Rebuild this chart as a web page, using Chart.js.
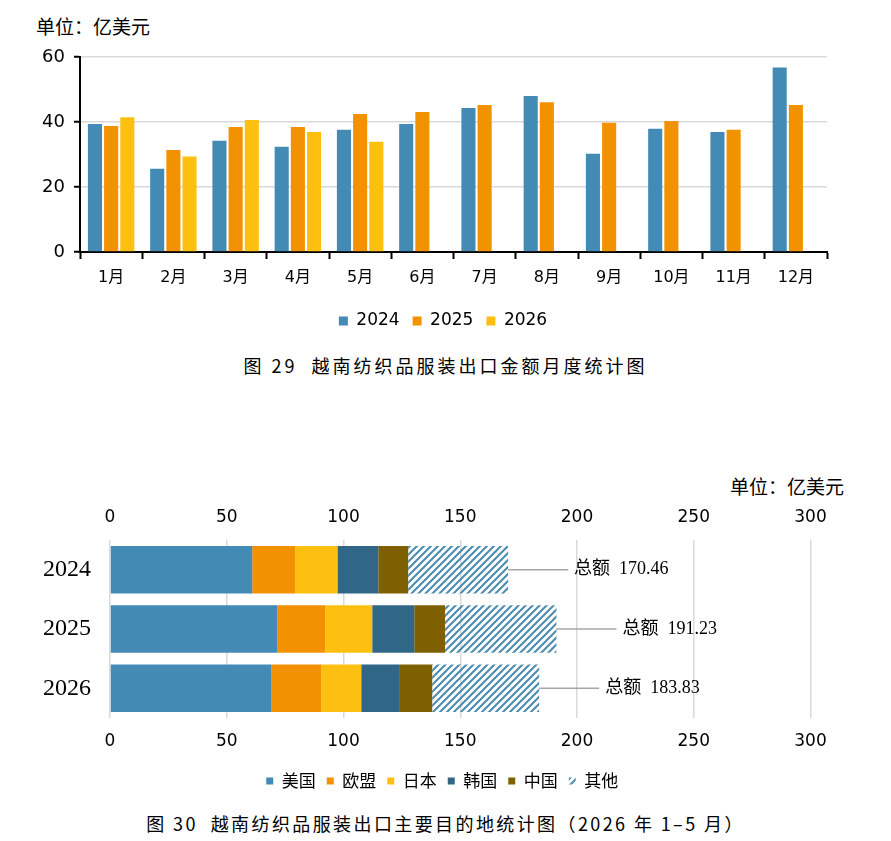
<!DOCTYPE html>
<html lang="zh-CN">
<head>
<meta charset="utf-8">
<title>越南纺织品服装出口统计图</title>
<script src="https://cdn.jsdelivr.net/npm/chart.js@4.4.1/dist/chart.umd.min.js"></script>
<style>
    html, body { margin: 0; padding: 0; background: #fff; }
    body { width: 891px; height: 841px; position: relative; overflow: hidden; color: #000;
           font-family: "Noto Sans CJK SC", sans-serif; }
    .unit { position: absolute; font-size: 19px; line-height: 1; white-space: nowrap; }
    .caption { position: absolute; left: 0; width: 891px; text-align: center; font-size: 18px;
               line-height: 1; white-space: nowrap; }
    .box { position: absolute; left: 0; width: 891px; }
</style>
</head>
<body>
<div class="unit" style="left:36px; top:16px;">单位：亿美元</div>
<div class="box" style="top:0; height:345px;"><canvas id="monthlyChart"></canvas></div>
<div class="caption" style="top:356px; letter-spacing:3px;">图 29&nbsp;&nbsp;越南纺织品服装出口金额月度统计图</div>

<div class="unit" style="left:730px; top:476px;">单位：亿美元</div>
<div class="box" style="top:480px; height:320px;"><canvas id="marketChart"></canvas></div>
<div class="caption" style="top:814px; letter-spacing:2.4px;">图 30&nbsp;&nbsp;越南纺织品服装出口主要目的地统计图（2026 年 1–5 月）</div>

<script>
// 图 29：月度出口额（亿美元）
const months = ['1月', '2月', '3月', '4月', '5月', '6月', '7月', '8月', '9月', '10月', '11月', '12月'];
const exports2024 = [39.4, 25.6, 34.2, 32.4, 37.6, 39.4, 44.3, 48.0, 30.2, 37.9, 36.9, 56.8];
const exports2025 = [38.8, 31.4, 38.5, 38.5, 42.5, 43.1, 45.2, 46.1, 39.8, 40.3, 37.6, 45.2];
const exports2026 = [41.5, 29.4, 40.6, 36.9, 33.9, null, null, null, null, null, null, null];

// 图 30：主要目的地（亿美元，1-5 月）
const years = ['2024', '2025', '2026'];
const usa = [60.9, 71.6, 69.0];
const eu = [18.4, 20.6, 21.4];
const japan = [18.1, 20.1, 17.2];
const korea = [17.5, 18.0, 16.2];
const china = [12.8, 13.2, 14.2];
const others = [42.8, 47.7, 45.8];
const totals = [170.46, 191.23, 183.83];

Chart.defaults.color = '#000';
Chart.defaults.animation = false;

const sansFont = "'DejaVu Sans', 'Noto Sans CJK SC', sans-serif";
const BLUE = '#438ab4', ORANGE = '#f39200', YELLOW = '#fdc010';

function makeHatch(color) {
    const size = 7;
    const c = document.createElement('canvas');
    c.width = size;
    c.height = size;
    const g = c.getContext('2d');
    g.strokeStyle = color;
    g.lineWidth = 2;
    g.beginPath();
    g.moveTo(0, size); g.lineTo(size, 0);
    g.moveTo(-size / 2, size / 2); g.lineTo(size / 2, -size / 2);
    g.moveTo(size / 2, size * 1.5); g.lineTo(size * 1.5, size / 2);
    g.stroke();
    return g.createPattern(c, 'repeat');
}

// the legend sits centred on the page, not on the space right of the y axis
function legendShift(dx) {
    return {
        id: 'legendShift',
        afterLayout(chart) {
            chart.legend.left += dx;
            chart.legend.right += dx;
        }
    };
}

// leader line + "总额" label at the end of each stacked bar
const totalLabels = {
    id: 'totalLabels',
    afterDatasetsDraw(chart) {
        const { ctx } = chart;
        const meta = chart.getDatasetMeta(chart.data.datasets.length - 1);
        ctx.save();
        meta.data.forEach((bar, i) => {
            ctx.strokeStyle = '#a6a6a6';
            ctx.lineWidth = 1.5;
            ctx.beginPath();
            ctx.moveTo(bar.x, bar.y);
            ctx.lineTo(bar.x + 60, bar.y);
            ctx.stroke();
            ctx.fillStyle = '#000';
            ctx.font = "18px 'Liberation Serif', 'Noto Sans CJK SC', serif";
            ctx.textBaseline = 'middle';
            ctx.textAlign = 'left';
            ctx.fillText('总额  ' + totals[i].toFixed(2), bar.x + 66, bar.y);
        });
        ctx.restore();
    }
};

new Chart(document.getElementById('monthlyChart'), {
    type: 'bar',
    data: {
        labels: months,
        datasets: [
            { label: '2024', data: exports2024, backgroundColor: BLUE },
            { label: '2025', data: exports2025, backgroundColor: ORANGE },
            { label: '2026', data: exports2026, backgroundColor: YELLOW }
        ]
    },
    options: {
        responsive: true,
        maintainAspectRatio: false,
        layout: { padding: { left: 0, right: 64, top: 57, bottom: 5.5 } },
        datasets: { bar: { categoryPercentage: 0.78, barPercentage: 0.87, borderWidth: 0 } },
        plugins: {
            legend: {
                position: 'bottom',
                labels: { font: { family: sansFont, size: 17 }, boxWidth: 9, boxHeight: 9, padding: 13 }
            },
            tooltip: { enabled: false }
        },
        scales: {
            x: {
                grid: { drawOnChartArea: false, tickLength: 7, tickColor: '#000', tickWidth: 2 },
                border: { color: '#000', width: 2 },
                ticks: { font: { family: sansFont, size: 16 }, padding: 9 },
                afterFit: (axis) => { axis.height = 47.5; }
            },
            y: {
                min: 0,
                max: 60,
                ticks: { stepSize: 20, font: { family: sansFont, size: 18 }, padding: 9 },
                grid: { color: '#d9d9d9', lineWidth: 1.5, tickColor: '#000', tickLength: 6, tickWidth: 2 },
                border: { color: '#000', width: 2 },
                afterFit: (axis) => { axis.width = 80; }
            }
        }
    },
    plugins: [legendShift(29.5)]
});

new Chart(document.getElementById('marketChart'), {
    type: 'bar',
    data: {
        labels: years,
        datasets: [
            { label: '美国', data: usa, backgroundColor: BLUE },
            { label: '欧盟', data: eu, backgroundColor: ORANGE },
            { label: '日本', data: japan, backgroundColor: YELLOW },
            { label: '韩国', data: korea, backgroundColor: '#306686' },
            { label: '中国', data: china, backgroundColor: '#7f6000' },
            { label: '其他', data: others, backgroundColor: makeHatch('#4a8bb0') }
        ]
    },
    options: {
        indexAxis: 'y',
        responsive: true,
        maintainAspectRatio: false,
        layout: { padding: { left: 0, right: 80.5, top: 0, bottom: 0.5 } },
        datasets: { bar: { categoryPercentage: 1, barPercentage: 0.8, borderWidth: 0 } },
        plugins: {
            legend: {
                position: 'bottom',
                labels: { font: { family: "'Noto Sans CJK SC', sans-serif", size: 17 }, boxWidth: 7, boxHeight: 7, padding: 11 }
            },
            tooltip: { enabled: false }
        },
        scales: {
            x: {
                stacked: true,
                position: 'bottom',
                min: 0,
                max: 300,
                ticks: { stepSize: 50, font: { family: sansFont, size: 17 }, padding: 13 },
                grid: { color: '#d9d9d9', lineWidth: 1.5, drawTicks: false },
                border: { display: false },
                afterFit: (axis) => { axis.height = 43.5; }
            },
            x2: {
                position: 'top',
                min: 0,
                max: 300,
                ticks: { stepSize: 50, font: { family: sansFont, size: 17 }, padding: 12 },
                grid: { display: false, drawTicks: false },
                border: { display: false },
                afterFit: (axis) => { axis.height = 60; }
            },
            y: {
                stacked: true,
                ticks: { font: { family: "'Liberation Serif', serif", size: 24 }, padding: 19 },
                grid: { display: false, drawTicks: false },
                border: { display: false },
                afterFit: (axis) => { axis.width = 110; }
            }
        }
    },
    plugins: [totalLabels, legendShift(37)]
});
</script>
</body>
</html>
